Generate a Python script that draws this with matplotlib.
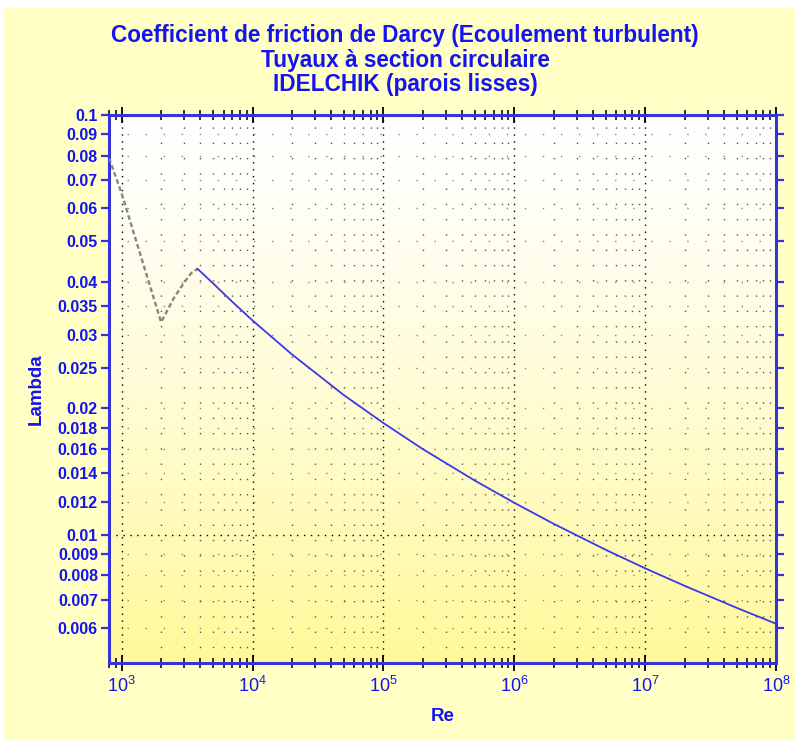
import matplotlib
matplotlib.use('agg')
import matplotlib.pyplot as plt
import numpy as np
from matplotlib.ticker import FixedLocator, NullFormatter, LogLocator
from matplotlib.patches import Rectangle

# transition zone (dashed grey)
re_trans = [800, 1000, 2000, 2500, 3000, 3400, 3800]
lam_trans = [0.079, 0.065, 0.0321, 0.0366, 0.0399, 0.0420, 0.0430]

# turbulent zone, smooth pipes (blue)
re_turb = [3800, 5000, 7000, 1e4, 2e4, 5e4, 1e5, 2e5, 5e5, 1e6, 2e6, 5e6,
           1e7, 2e7, 5e7, 1e8]
lam_turb = [0.0430, 0.0397, 0.0359, 0.0324, 0.0269, 0.0215, 0.01846, 0.0160,
            0.01346, 0.01192, 0.01062, 0.00921, 0.00832, 0.00756, 0.00670, 0.00614]

ytick_vals = [0.1, 0.09, 0.08, 0.07, 0.06, 0.05, 0.04, 0.035, 0.03, 0.025,
              0.02, 0.018, 0.016, 0.014, 0.012, 0.01, 0.009, 0.008, 0.007, 0.006]
ytick_labels = ['0.1', '0.09', '0.08', '0.07', '0.06', '0.05', '0.04', '0.035',
                '0.03', '0.025', '0.02', '0.018', '0.016', '0.014', '0.012',
                '0.01', '0.009', '0.008', '0.007', '0.006']

title_lines = ['Coefficient de friction de Darcy (Ecoulement turbulent)',
               'Tuyaux \u00e0 section circulaire',
               'IDELCHIK (parois lisses)']

blue = '#1414F0'
spine_blue = '#3434D8'
plt.rcParams['font.family'] = ['Liberation Sans', 'DejaVu Sans']

fig = plt.figure(figsize=(7.95, 7.40), dpi=100, facecolor='#FFFFC6')
fig.patches.append(Rectangle((0, 1 - 8 / 740), 1, 8 / 740, transform=fig.transFigure,
                             facecolor='white', edgecolor='none', zorder=0))
fig.patches.append(Rectangle((0, 0), 4 / 795, 1, transform=fig.transFigure,
                             facecolor='white', edgecolor='none', zorder=0))

ax = fig.add_axes([109 / 795, 1 - 663 / 740, 667 / 795, 548 / 740])
ax.set_xscale('log')
ax.set_yscale('log')
ax.set_xlim(800, 1e8)
ax.set_ylim(0.00495, 0.1)

# background gradient white (top) -> yellow (bottom)
grad = np.linspace(0, 1, 256).reshape(-1, 1)
top = np.array([1.0, 1.0, 1.0])
bot = np.array([1.0, 0.975, 0.6])
img = top + (bot - top) * grad[..., None] ** 1.3
ax.imshow(img, extent=[0, 1, 0, 1], origin='upper', transform=ax.transAxes,
          aspect='auto', zorder=0)

# grid
for d in range(3, 9):
    ax.axvline(10 ** d, color='black', lw=1.0, ls=(0, (1, 4)), zorder=1)
    for k in range(2, 10):
        if 10 ** d * k < 1e8:
            ax.axvline(10 ** d * k, color='#555555', lw=1.0, ls=(0, (1, 10)), zorder=1)
for v in ytick_vals:
    if v == 0.01:
        ax.axhline(v, color='black', lw=1.0, ls=(0, (1, 4)), zorder=1)
    else:
        ax.axhline(v, color='#888888', lw=1.0, ls=(0, (1, 12)), zorder=1)

ax.plot(re_trans, lam_trans, color='#858585', lw=1.7, ls=(0, (2, 1.2)), zorder=3)
ax.plot(re_turb, lam_turb, color='#3A3AE8', lw=1.3, zorder=3)

# ticks
ax.yaxis.set_major_locator(FixedLocator(ytick_vals))
ax.yaxis.set_minor_locator(FixedLocator([]))
ax.set_yticklabels(ytick_labels)
ax.xaxis.set_major_locator(LogLocator(base=10, numticks=20))
ax.xaxis.set_minor_locator(LogLocator(base=10, subs=np.arange(2, 10), numticks=20))
ax.xaxis.set_minor_formatter(NullFormatter())
ax.tick_params(axis='x', which='major', direction='inout', length=12, width=1.3,
               color='black', top=True, labelcolor=blue, labelsize=13, pad=3)
ax.tick_params(axis='x', which='minor', direction='inout', length=7, width=1.3,
               color='#222222', top=True)
ax.tick_params(axis='y', which='major', direction='out', length=6, width=1.6,
               color=spine_blue, labelcolor=blue, labelsize=11.5, right=True, pad=2)

for lab in ax.get_yticklabels():
    lab.set_fontweight('bold')

for s in ax.spines.values():
    s.set_color(spine_blue)
    s.set_linewidth(2.2)

ax.set_xlabel('Re', color=blue, fontsize=13.5, fontweight='bold', labelpad=9)
ax.set_ylabel('Lambda', color=blue, fontsize=13.5, fontweight='bold', labelpad=9)

fig.text(405 / 795, 1 - 60 / 740, '\n'.join(title_lines), ha='center', va='center',
         color=blue, fontsize=16.3, fontweight='bold', linespacing=1.08)

fig.savefig('out.png', dpi=100, facecolor=fig.get_facecolor())
